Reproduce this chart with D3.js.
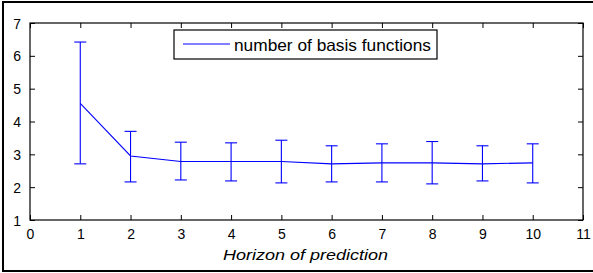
<!DOCTYPE html>
<html><head><meta charset="utf-8">
<script src="https://cdn.jsdelivr.net/npm/d3@7"></script>
<style>body{margin:0;background:#fff}svg{display:block}text{font-family:"Liberation Sans",Arial,sans-serif;fill:#000}</style>
</head><body>
<svg id="c" width="593" height="273"></svg>
<script>
const horizons = [1,2,3,4,5,6,7,8,9,10];
const meanVals = [4.55,2.95,2.78,2.78,2.78,2.71,2.74,2.74,2.71,2.74];
const upperVals = [6.42,3.70,3.37,3.35,3.43,3.26,3.32,3.39,3.26,3.32];
const lowerVals = [2.71,2.16,2.22,2.19,2.13,2.16,2.16,2.10,2.19,2.13];
const xTicks = [0,1,2,3,4,5,6,7,8,9,10,11];
const yTicks = [1,2,3,4,5,6,7];
const seriesName = "number of basis functions";
const xLabel = "Horizon of prediction";

const svg = d3.select("#c");
const L=30,R=583,T=23,B=220;
const x = d3.scaleLinear().domain([0,11]).range([L,R]);
const y = d3.scaleLinear().domain([1,7]).range([B,T]);
const blue="#0000ff";

// outer frame
svg.append("rect").attr("x",3).attr("y",2).attr("width",600).attr("height",269)
  .attr("fill","none").attr("stroke","#000").attr("stroke-width",2);

// plot box
svg.append("rect").attr("x",L).attr("y",T).attr("width",R-L).attr("height",B-T)
  .attr("fill","#fff").attr("stroke","#000").attr("stroke-width",1.2);

const tl=5;
const gx = svg.append("g").attr("transform",`translate(0,${B})`)
  .call(d3.axisBottom(x).tickValues(xTicks).tickSize(-tl).tickPadding(9).tickFormat(d3.format("d")));
const gxt = svg.append("g").attr("transform",`translate(0,${T})`)
  .call(d3.axisTop(x).tickValues(xTicks).tickSize(-tl).tickFormat(""));
const gy = svg.append("g").attr("transform",`translate(${L},0)`)
  .call(d3.axisLeft(y).tickValues(yTicks).tickSize(-tl).tickPadding(9).tickFormat(d3.format("d")));
const gyr = svg.append("g").attr("transform",`translate(${R},0)`)
  .call(d3.axisRight(y).tickValues(yTicks).tickSize(-tl).tickFormat(""));
[gx,gxt,gy,gyr].forEach(g=>{
  g.select(".domain").remove();
  g.selectAll("line").attr("stroke","#000");
  g.selectAll("text").attr("font-size",14).attr("font-family","Liberation Sans, Arial, sans-serif").attr("fill","#000");
});
gy.selectAll("text").attr("dy","0.36em");

// error bars
const cap=6;
const eb = svg.append("g").attr("stroke",blue).attr("stroke-width",1.1).attr("fill","none");
horizons.forEach((h,i)=>{
  eb.append("line").attr("x1",x(h)).attr("x2",x(h)).attr("y1",y(lowerVals[i])).attr("y2",y(upperVals[i]));
  eb.append("line").attr("x1",x(h)-cap).attr("x2",x(h)+cap).attr("y1",y(lowerVals[i])).attr("y2",y(lowerVals[i]));
  eb.append("line").attr("x1",x(h)-cap).attr("x2",x(h)+cap).attr("y1",y(upperVals[i])).attr("y2",y(upperVals[i]));
});
svg.append("path").datum(horizons.map((h,i)=>[h,meanVals[i]]))
  .attr("d",d3.line().x(d=>x(d[0])).y(d=>y(d[1])))
  .attr("fill","none").attr("stroke",blue).attr("stroke-width",1.1);

// legend
svg.append("rect").attr("x",174).attr("y",30).attr("width",263).attr("height",29)
  .attr("fill","#fff").attr("stroke","#000").attr("stroke-width",1.2);
svg.append("line").attr("x1",183).attr("x2",230).attr("y1",44).attr("y2",44)
  .attr("stroke",blue).attr("stroke-width",1.1);
svg.append("text").attr("x",234).attr("y",51).attr("font-size",16.5)
  .attr("textLength",197).attr("lengthAdjust","spacingAndGlyphs").text(seriesName);

// x label
svg.append("text").attr("x",(L+R)/2-1).attr("y",260).attr("text-anchor","middle")
  .attr("font-size",15.5).attr("font-style","italic")
  .attr("textLength",165).attr("lengthAdjust","spacingAndGlyphs").text(xLabel);
</script>
</body></html>
